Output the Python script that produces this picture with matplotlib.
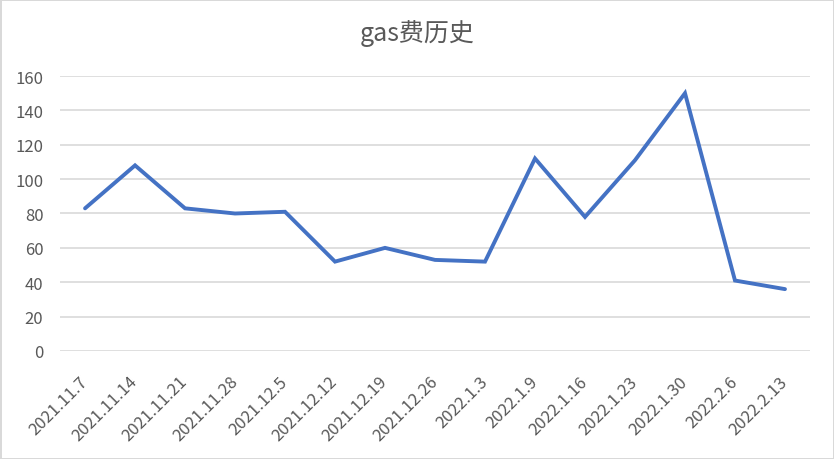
import numpy as np
import matplotlib.pyplot as plt
import matplotlib.transforms as mtransforms

plt.rcParams['font.family'] = ['Noto Sans CJK SC', 'DejaVu Sans']

# dati
dates = ['2021.11.7', '2021.11.14', '2021.11.21', '2021.11.28', '2021.12.5',
         '2021.12.12', '2021.12.19', '2021.12.26', '2022.1.3', '2022.1.9',
         '2022.1.16', '2022.1.23', '2022.1.30', '2022.2.6', '2022.2.13']
gas = [83, 108, 83, 80, 81, 52, 60, 53, 52, 112, 78, 111, 150, 41, 36]
y_ticks = [0, 20, 40, 60, 80, 100, 120, 140, 160]

text_col = '#595959'
grid_col = '#D9D9D9'

fig = plt.figure(figsize=(8.34, 4.6), dpi=100, edgecolor=grid_col, linewidth=2.0)
ax = fig.add_axes([0.072, 0.2348, 0.8992, 0.5978])

x = np.arange(len(dates))
ax.plot(x, gas, color='#4472C4', linewidth=2.8, solid_joinstyle='miter',
        solid_capstyle='round')

ax.set_xlim(-0.5, len(dates) - 0.5)
ax.set_ylim(0, 160)
ax.set_yticks(y_ticks)
ax.yaxis.grid(True, color=grid_col, linewidth=1.2)
ax.set_axisbelow(True)
for s in ax.spines.values():
    s.set_visible(False)

ax.set_xticks(x)
ax.set_xticklabels(dates, rotation=45, ha='right', va='center',
                   rotation_mode='anchor', fontsize=12, color=text_col)
# sposta le etichette verso destra
off = mtransforms.ScaledTranslation(5 / 100, 0, fig.dpi_scale_trans)
for lab in ax.get_xticklabels():
    lab.set_transform(lab.get_transform() + off)
ax.tick_params(axis='x', length=0, pad=20)
ax.tick_params(axis='y', length=0, pad=12, labelsize=12, labelcolor=text_col)

fig.text(0.5, 0.928, 'gas费历史', ha='center', va='center', fontsize=18,
         color=text_col)

fig.savefig('out.png', dpi=100, edgecolor=fig.get_edgecolor())
